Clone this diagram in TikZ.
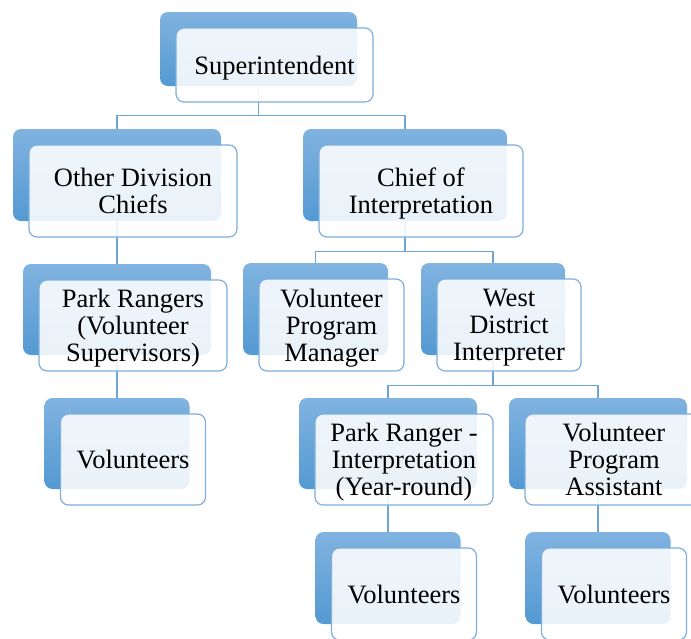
\documentclass[tikz,border=0pt]{standalone}
\usepackage{fontspec}
\setmainfont{Liberation Serif}
\usetikzlibrary{calc}
\definecolor{boxtop}{RGB}{128,179,224}
\definecolor{boxbottom}{RGB}{84,153,210}
\definecolor{boxline}{RGB}{125,174,220}
\definecolor{linkline}{RGB}{110,165,215}
\tikzset{
	backbox/.style={rounded corners=8pt, top color=boxtop, bottom color=boxbottom, draw=none, inner sep=0pt},
	frontbox/.style={rounded corners=8pt, draw=boxline, line width=1.2pt, fill=white, fill opacity=0.88, text opacity=1, inner sep=0pt, text depth=0pt, align=center, font=\fontsize{26.5}{27}\selectfont},
	link/.style={draw=linkline, line width=1.3pt}
}
\def\orgback(#1)(#2,#3)(#4,#5){\node[backbox, minimum width=#4pt, minimum height=#5pt] (#1) at (#2,#3) {};}
\def\orgfront(#1)(#2,#3)#4{\node[frontbox, minimum width=#2pt, minimum height=#3pt] (#1-text) at ($(#1)+(16,16)$) {#4};}

\begin{document}
\begin{tikzpicture}[x=1pt, y=-1pt]
			%%%%% START %%%%%
			
			\clip (0, 0) rectangle (691, 638);
			
			\orgback(sup)(258.5, 49)(197, 74)
			
			\orgback(odc)(117, 175)(208, 92)
			\orgback(coi)(405, 175)(204, 92)
			
			\orgback(prv)(117, 309.5)(188, 91)
			\orgback(vpm)(315.5, 309)(145, 92)
			\orgback(wdi)(493, 309)(144, 92)
			
			\orgback(vol1)(117, 443.5)(145, 91)
			\orgback(pri)(388, 443.5)(178, 91)
			\orgback(vpa)(598, 443.5)(178, 91)
			
			\orgback(vol2)(388, 578)(145, 92)
			\orgback(vol3)(598, 578)(145, 92)
			
			\draw[link] (sup.south) -- ++(0, 29) -| (odc.north);
			\draw[link] (sup.south) -- ++(0, 29) -| (coi.north);
			\draw[link] (odc.south) -- (prv.north);
			\draw[link] (prv.south) -- (vol1.north);
			
			\draw[link] (coi.south) -- ++(0, 30) -| (vpm.north);
			\draw[link] (coi.south) -- ++(0, 30) -| (wdi.north);
			
			\draw[link] (wdi.south) -- ++(0, 30) -| (pri.north);
			\draw[link] (wdi.south) -- ++(0, 30) -| (vpa.north);
			\draw[link] (pri.south) -- (vol2.north);
			\draw[link] (vpa.south) -- (vol3.north);
			
			\orgfront(sup)(197, 74){Superintendent}
			
			\orgfront(odc)(208, 92){Other Division\\Chiefs}
			\orgfront(coi)(204, 92){Chief of\\Interpretation}
			
			\orgfront(prv)(188, 91){Park Rangers\\(Volunteer\\Supervisors)}
			\orgfront(vpm)(145, 92){Volunteer\\Program\\Manager}
			\orgfront(wdi)(144, 92){West\\District\\Interpreter}
			
			\orgfront(vol1)(145, 91){Volunteers}
			\orgfront(pri)(178, 91){Park Ranger -\\Interpretation\\(Year-round)}
			\orgfront(vpa)(178, 91){Volunteer\\Program\\Assistant}
			
			\orgfront(vol2)(145, 92){Volunteers}
			\orgfront(vol3)(145, 92){Volunteers}
			
			%%%%% END %%%%%
		\end{tikzpicture}
\end{document}
